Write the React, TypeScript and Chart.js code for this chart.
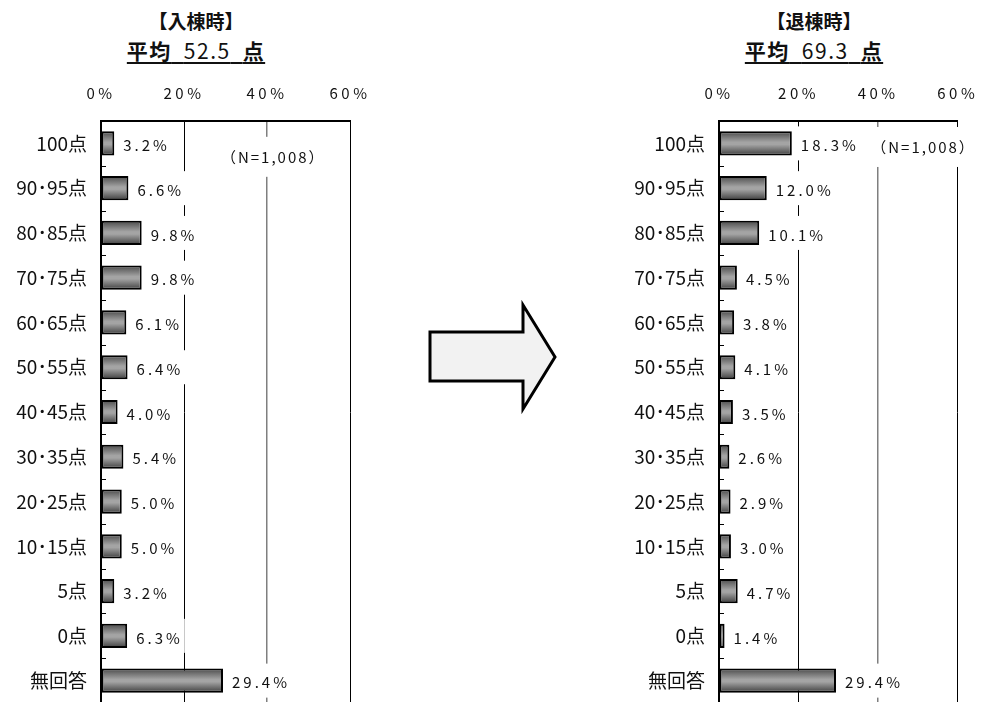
import React, { useEffect, useRef } from 'react';
import { Chart, registerables } from 'chart.js';

Chart.register(...registerables);

const FONT = '"Noto Sans CJK JP", "Noto Sans", sans-serif';
Chart.defaults.font.family = FONT;

// ---- data ----
const categories = ['100点', '90･95点', '80･85点', '70･75点', '60･65点', '50･55点', '40･45点', '30･35点', '20･25点', '10･15点', '5点', '0点', '無回答'];
const admissionValues = [3.2, 6.6, 9.8, 9.8, 6.1, 6.4, 4.0, 5.4, 5.0, 5.0, 3.2, 6.3, 29.4];
const dischargeValues = [18.3, 12.0, 10.1, 4.5, 3.8, 4.1, 3.5, 2.6, 2.9, 3.0, 4.7, 1.4, 29.4];
const xTickValues = [0, 20, 40, 60];
const admissionTitle = '【入棟時】';
const admissionMean = '52.5';
const dischargeTitle = '【退棟時】';
const dischargeMean = '69.3';
const meanPrefix = '平均';
const meanSuffix = '点';
const sampleNote = '（N=1,008）';
// note anchor (value %, category index)
const admissionNoteAt = [41.5, 0.3];
const dischargeNoteAt = [51.4, 0.08];

const fmt = (v: number) => v.toFixed(1) + '%';

function makeDecor(values: number[], noteAt: number[]) {
  return {
    id: 'decor',
    beforeDraw(chart: any) {
      const xs = chart.scales.x;
      if (xs && !xs.__ls) {
        const orig = xs.drawLabels.bind(xs);
        xs.drawLabels = (ca: any) => {
          const c = chart.ctx;
          c.save();
          (c as any).letterSpacing = '3.5px';
          orig(ca);
          c.restore();
        };
        xs.__ls = true;
      }
    },
    afterDatasetsDraw(chart: any) {
      const ctx = chart.ctx;
      const ys = chart.scales.y;
      const xs = chart.scales.x;
      const area = chart.chartArea;
      ctx.save();
      ctx.strokeStyle = '#000';
      ctx.lineWidth = 1;
      for (let i = 0; i < values.length; i++) {
        const y = Math.round((ys.getPixelForValue(i) + ys.getPixelForValue(i + 1)) / 2) + 0.5;
        if (y > area.bottom - 1) continue;
        ctx.beginPath();
        ctx.moveTo(area.left, y);
        ctx.lineTo(area.left + 5, y);
        ctx.stroke();
      }
      ctx.font = '15px ' + FONT;
      (ctx as any).letterSpacing = '3px';
      ctx.textBaseline = 'middle';
      ctx.textAlign = 'left';
      const meta = chart.getDatasetMeta(0);
      meta.data.forEach((el: any, i: number) => {
        const t = fmt(values[i]);
        const w = ctx.measureText(t).width;
        const tx = el.x + 9;
        ctx.fillStyle = '#fff';
        ctx.fillRect(tx - 4, el.y - 17, w + 6, 34);
        ctx.fillStyle = '#111';
        ctx.fillText(t, tx, el.y + 2);
      });
      ctx.font = '15px ' + FONT;
      (ctx as any).letterSpacing = '2px';
      ctx.textAlign = 'center';
      const nx = xs.getPixelForValue(noteAt[0]);
      const ny = ys.getPixelForValue(noteAt[1]);
      const nw = ctx.measureText(sampleNote).width;
      ctx.fillStyle = '#fff';
      ctx.fillRect(nx - nw / 2 - 4, ny - 20, nw + 8, 40);
      ctx.fillStyle = '#111';
      ctx.fillText(sampleNote, nx, ny);
      ctx.restore();
    },
  };
}

type PanelProps = {
  values: number[];
  left: number;
  width: number;
  axisWidth: number;
  rightPad: number;
  noteAt: number[];
};

function BarPanel({ values, left, width, axisWidth, rightPad, noteAt }: PanelProps) {
  const ref = useRef<HTMLCanvasElement>(null);
  useEffect(() => {
    if (!ref.current) return;
    const chart = new Chart(ref.current, {
      type: 'bar',
      data: {
        labels: categories,
        datasets: [
          {
            data: values,
            backgroundColor: (c: any) => {
              const ch = c.chart;
              const ys = ch.scales && ch.scales.y;
              if (!ys || c.dataIndex === undefined) return '#888';
              const yc = ys.getPixelForValue(c.dataIndex);
              if (!isFinite(yc)) return '#888';
              const g = ch.ctx.createLinearGradient(0, yc - 12, 0, yc + 12);
              g.addColorStop(0, '#4a4a4a');
              g.addColorStop(0.45, '#a4a4a4');
              g.addColorStop(0.55, '#a4a4a4');
              g.addColorStop(1, '#3e3e3e');
              return g;
            },
            borderColor: '#000',
            borderWidth: 2,
            borderSkipped: false,
            categoryPercentage: 1,
            barPercentage: 0.54,
          },
        ],
      },
      options: {
        indexAxis: 'y',
        responsive: false,
        animation: false,
        events: [],
        layout: { padding: { left: 0, right: rightPad, top: 0, bottom: 0 } },
        plugins: { legend: { display: false }, tooltip: { enabled: false } },
        scales: {
          x: {
            type: 'linear',
            position: 'top',
            min: 0,
            max: 60,
            afterBuildTicks: (s: any) => {
              s.ticks = xTickValues.map((v) => ({ value: v }));
            },
            afterFit: (s: any) => {
              s.height = 51;
            },
            ticks: {
              callback: (v: any) => v + '%',
              font: { size: 15 },
              color: '#111',
              padding: 19,
            },
            grid: {
              drawTicks: false,
              color: (c: any) => (c.tick && c.tick.value === 40 ? '#7f7f7f' : '#000'),
              lineWidth: (c: any) => (c.tick && c.tick.value === 40 ? 1.5 : 1),
            },
            border: { display: true, color: '#000', width: 2 },
          },
          y: {
            type: 'category',
            afterFit: (s: any) => {
              s.width = axisWidth;
              s.paddingTop = 0;
              s.paddingBottom = 0;
            },
            ticks: {
              font: { size: 19 },
              color: '#111',
              padding: 14,
              autoSkip: false,
            },
            grid: { display: false, drawTicks: false },
            border: { display: true, color: '#000', width: 2 },
          },
        },
      },
      plugins: [makeDecor(values, noteAt)],
    } as any);
    return () => chart.destroy();
  }, []);
  return (
    <canvas
      ref={ref}
      width={width}
      height={633}
      style={{ position: 'absolute', left, top: 70, width, height: 633, display: 'block' }}
    />
  );
}

function Title({ cx, title, mean }: { cx: number; title: string; mean: string }) {
  const base: React.CSSProperties = {
    position: 'absolute',
    left: cx - 150,
    width: 300,
    textAlign: 'center',
    fontFamily: FONT,
    color: '#111',
    whiteSpace: 'nowrap',
  };
  return (
    <>
      <div style={{ ...base, top: 9, fontSize: 19, lineHeight: '24px', fontWeight: 'bold' }}>{title}</div>
      <div style={{ ...base, top: 37, fontSize: 21, lineHeight: '26px', letterSpacing: '1.5px' }}>
        <span
          style={{
            textDecoration: 'underline',
            textDecorationThickness: '2px',
            textUnderlineOffset: '3px',
          }}
        >
          <b>{meanPrefix}</b>
          {'\u2002'}
          {mean}
          {'\u2002'}
          <b>{meanSuffix}</b>
        </span>
      </div>
    </>
  );
}

export default function App() {
  useEffect(() => {
    document.body.style.margin = '0';
  }, []);
  return (
    <div
      style={{
        position: 'fixed',
        left: 0,
        top: 0,
        width: 992,
        height: 702,
        overflow: 'hidden',
        background: '#fff',
      }}
    >
      <Title cx={196} title={admissionTitle} mean={admissionMean} />
      <Title cx={814} title={dischargeTitle} mean={dischargeMean} />
      <BarPanel values={admissionValues} left={0} width={400} axisWidth={101} rightPad={50} noteAt={admissionNoteAt} />
      <BarPanel values={dischargeValues} left={600} width={392} axisWidth={119} rightPad={23} noteAt={dischargeNoteAt} />
      <svg
        width={140}
        height={120}
        style={{ position: 'absolute', left: 420, top: 298 }}
        viewBox="420 298 140 120"
      >
        <polygon
          points="430,332 523,332 523,305 555,357 523,409 523,381 430,381"
          fill="#f2f2f2"
          stroke="#000"
          strokeWidth={3}
          strokeLinejoin="miter"
        />
      </svg>
    </div>
  );
}
